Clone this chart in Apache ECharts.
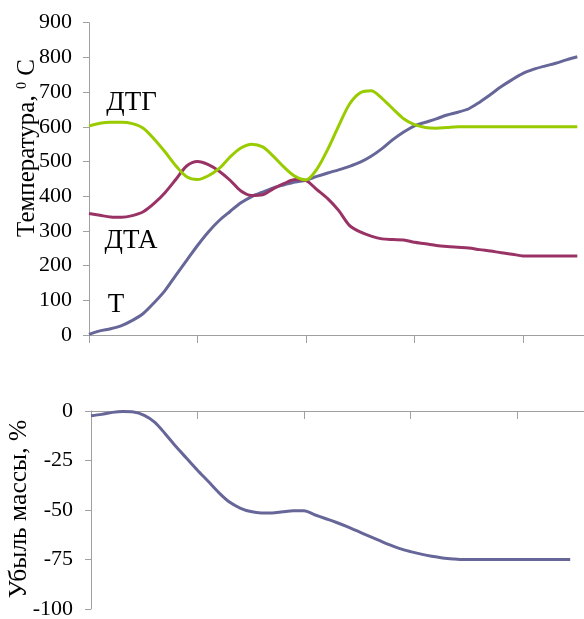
<!DOCTYPE html>
<html>
<head>
<meta charset="utf-8">
<script src="https://cdn.jsdelivr.net/npm/echarts@6/dist/echarts.min.js"></script>
<style>html,body{margin:0;padding:0;background:#fff}#c{width:584px;height:619px}</style>
</head>
<body>
<div id="c"></div>
<script>
// x positions (category indices)
const points = Array.from({length: 48}, (_, i) => String(i));

// Температура T, °C
const seriesT = [2, 12, 18, 27, 42, 62, 93, 128, 172, 215, 258, 297, 330, 356, 381, 399, 412, 424, 433, 441,
  446, 457, 467, 476, 486, 498, 515, 537, 563, 585, 603, 613, 623, 634, 642, 652, 671, 693, 716, 736,
  754, 766, 775, 783, 793, 802];
// ДТА
const seriesDTA = [350, 345, 340, 339, 344, 355, 379, 410, 448, 487, 500, 491, 472, 446, 415, 402, 404, 422, 437, 448,
  445, 419, 393, 359, 316, 297, 285, 277, 275, 274, 267, 263, 258, 255, 253, 251, 246, 242, 237, 233,
  228, 228, 228, 228, 228, 228];
// ДТГ
const seriesDTG = [602, 610, 613, 613, 609, 596, 565, 528, 488, 456, 448, 459, 480, 513, 539, 550, 542, 515, 483, 457,
  447, 478, 535, 602, 665, 698, 704, 682, 652, 623, 606, 598, 596, 598, 600, 600, 600, 600, 600, 600,
  600, 600, 600, 600, 600, 600];
// Убыль массы, %
const seriesMass = [-2.4, -1.7, -0.7, -0.3, -0.5, -2.2, -5.7, -11.7, -18.1, -24, -29.9, -35.5, -41.2, -46, -49, -50.8, -51.5, -51.5, -50.9, -50.4,
  -50.4, -52.4, -54.3, -56.2, -58.3, -60.6, -62.9, -65.2, -67.5, -69.5, -71, -72.3, -73.4, -74.2, -74.7, -75, -75, -75, -75, -75,
  -75, -75, -75, -75, -75, -75];

const tempTicks = {min: 0, max: 900, interval: 100};
const massTicks = {min: -100, max: 0, interval: 25};

const FONT = 'Liberation Serif';
const AXIS = '#a0a0a0';

const chart = echarts.init(document.getElementById('c'), null, {renderer: 'canvas'});
chart.setOption({
  animation: false,
  backgroundColor: '#fff',
  grid: [
    {left: 89, top: 22.7, height: 312.3, right: -15, containLabel: false, outerBoundsMode: 'none'},
    {left: 91, top: 411, height: 198, right: -7.5, containLabel: false, outerBoundsMode: 'none'}
  ],
  xAxis: [
    {
      gridIndex: 0, type: 'category', data: points, boundaryGap: false,
      axisLine: {show: true, onZero: false, lineStyle: {color: AXIS, width: 1}},
      axisTick: {show: true, interval: 9, length: 8, lineStyle: {color: AXIS}},
      axisLabel: {show: false}, splitLine: {show: false}
    },
    {
      gridIndex: 1, type: 'category', data: points, boundaryGap: false, position: 'top',
      axisLine: {show: true, onZero: false, lineStyle: {color: AXIS, width: 1}},
      axisTick: {show: true, inside: true, interval: 9, length: 8, lineStyle: {color: AXIS}},
      axisLabel: {show: false}, splitLine: {show: false}
    }
  ],
  yAxis: [
    {
      gridIndex: 0, type: 'value', min: tempTicks.min, max: tempTicks.max, interval: tempTicks.interval,
      axisLine: {show: true, lineStyle: {color: AXIS, width: 1}},
      axisTick: {show: true, length: 6, lineStyle: {color: AXIS}},
      axisLabel: {color: '#000', fontFamily: FONT, fontSize: 22, margin: 17},
      splitLine: {show: false}
    },
    {
      gridIndex: 1, type: 'value', min: massTicks.min, max: massTicks.max, interval: massTicks.interval,
      axisLine: {show: true, lineStyle: {color: AXIS, width: 1}},
      axisTick: {show: true, length: 6, lineStyle: {color: AXIS}},
      axisLabel: {color: '#000', fontFamily: FONT, fontSize: 22, margin: 18},
      splitLine: {show: false}
    }
  ],
  series: [
    {name: 'T', type: 'line', xAxisIndex: 0, yAxisIndex: 0, data: seriesT, smooth: 0.3, showSymbol: false,
      lineStyle: {color: '#666699', width: 3}, itemStyle: {color: '#666699'}},
    {name: 'ДТА', type: 'line', xAxisIndex: 0, yAxisIndex: 0, data: seriesDTA, smooth: 0.3, showSymbol: false,
      lineStyle: {color: '#993366', width: 3}, itemStyle: {color: '#993366'}},
    {name: 'ДТГ', type: 'line', xAxisIndex: 0, yAxisIndex: 0, data: seriesDTG, smooth: 0.3, showSymbol: false,
      lineStyle: {color: '#99cc00', width: 3}, itemStyle: {color: '#99cc00'}},
    {name: 'Убыль массы', type: 'line', xAxisIndex: 1, yAxisIndex: 1, data: seriesMass, smooth: 0.3, showSymbol: false,
      lineStyle: {color: '#666699', width: 3}, itemStyle: {color: '#666699'}}
  ],
  graphic: [
    {type: 'text', x: 27.5, y: 148, rotation: Math.PI / 2, silent: true,
      style: {text: '{a|Температура, }{s|0}{a| С}', align: 'center', verticalAlign: 'middle',
        rich: {a: {fontFamily: FONT, fontSize: 25, fill: '#000'}, s: {fontFamily: FONT, fontSize: 14, fill: '#000', verticalAlign: 'top'}}}},
    {type: 'text', x: 19, y: 509, rotation: Math.PI / 2, silent: true,
      style: {text: 'Убыль массы, %', align: 'center', verticalAlign: 'middle', fontFamily: FONT, fontSize: 25.5, fill: '#000'}},
    {type: 'text', x: 131.5, y: 103, silent: true,
      style: {text: 'ДТГ', align: 'center', verticalAlign: 'middle', fontFamily: FONT, fontSize: 27, fill: '#000'}},
    {type: 'text', x: 131, y: 241, silent: true,
      style: {text: 'ДТА', align: 'center', verticalAlign: 'middle', fontFamily: FONT, fontSize: 27, fill: '#000'}},
    {type: 'text', x: 116, y: 305, silent: true,
      style: {text: 'Т', align: 'center', verticalAlign: 'middle', fontFamily: FONT, fontSize: 27, fill: '#000'}}
  ]
});
</script>
</body>
</html>
